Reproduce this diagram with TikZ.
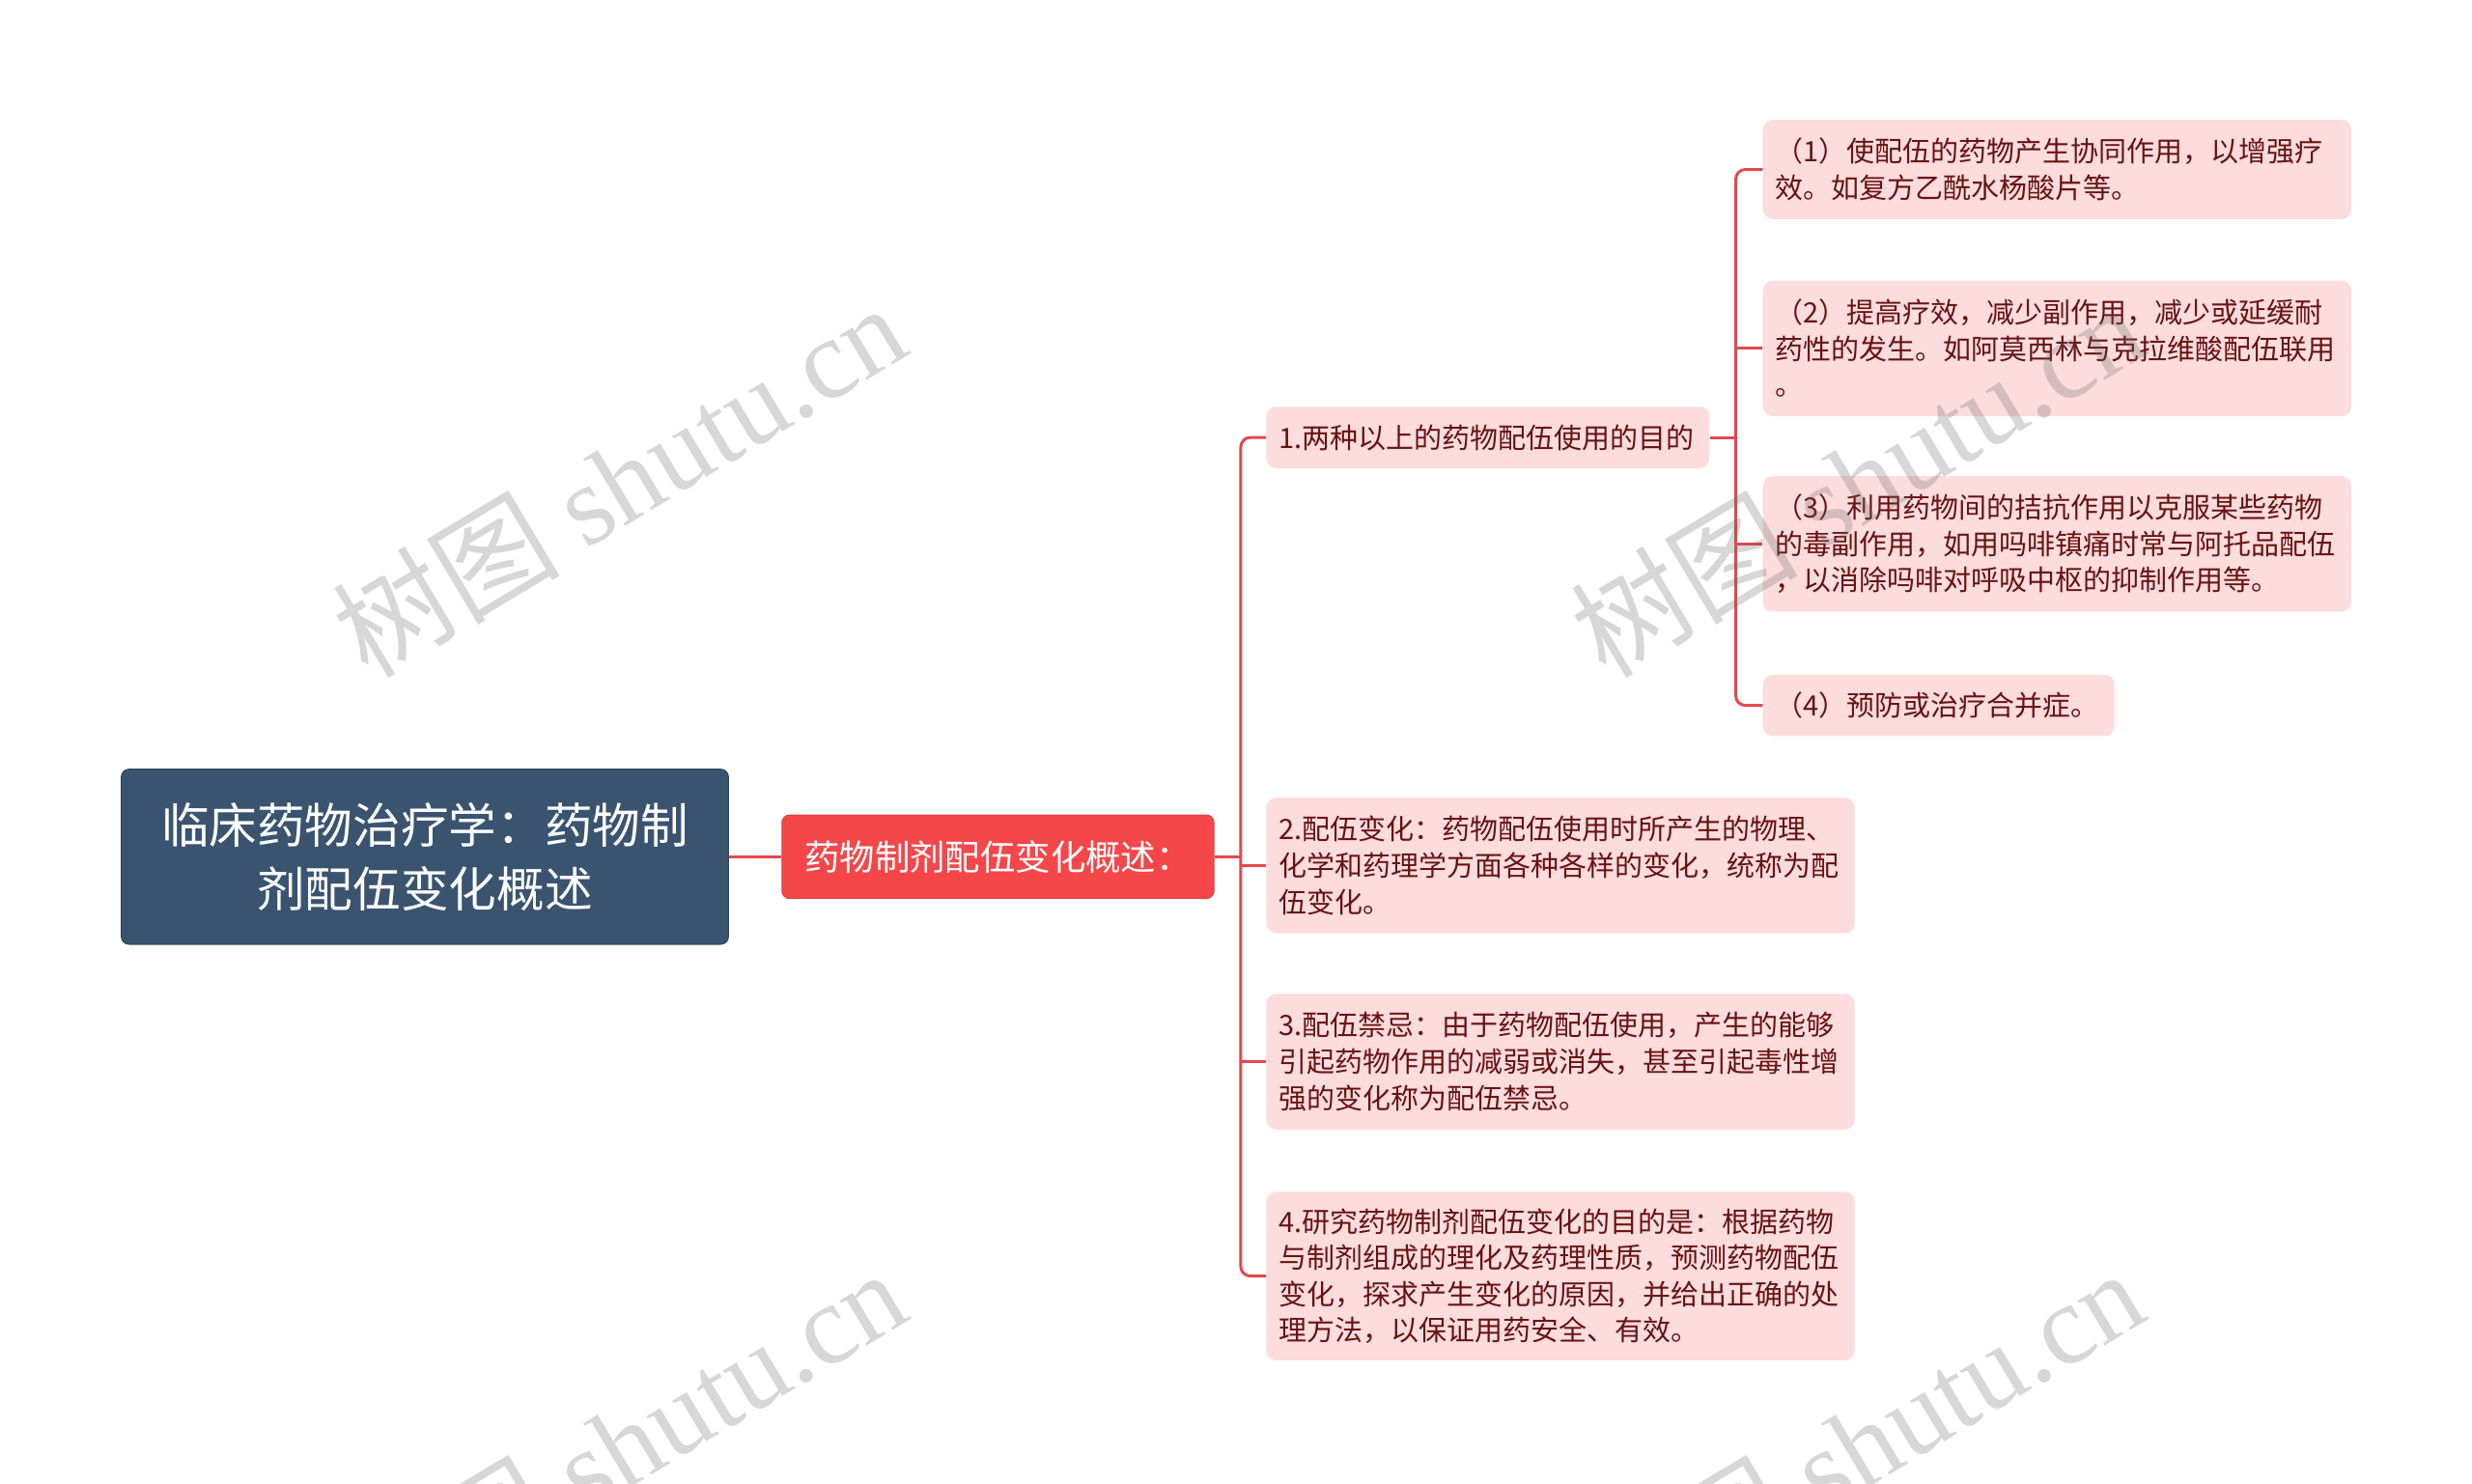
\documentclass[tikz,border=0pt]{standalone}
\usepackage{fontspec}
\setmainfont{Noto Sans CJK SC}
\newfontfamily\wmfont{Liberation Serif}
\definecolor{rootblue}{RGB}{58,84,112}
\definecolor{mainred}{RGB}{245,71,74}
\definecolor{linkred}{RGB}{226,72,77}
\definecolor{leafpink}{RGB}{252,220,221}
\definecolor{leaftext}{RGB}{104,18,18}

\begin{document}
\begin{tikzpicture}[x=0.8163pt,y=-0.8163pt,
    root node/.style={rectangle,rounded corners=4pt,fill=rootblue,draw=rootblue!85!black,line width=0.6pt,
      text=white,align=center,minimum width=314.3pt,minimum height=90.6pt,font=\fontsize{24.8}{32.7}\selectfont},
    main node/.style={rectangle,rounded corners=4pt,fill=mainred,draw=mainred!90!black,line width=0.5pt,
      text=white,minimum width=223.7pt,minimum height=43.3pt,font=\fontsize{18.2}{22}\selectfont},
    leaf node/.style={rectangle,rounded corners=5pt,fill=leafpink,text=leaftext,anchor=west,align=left,
      text width=#1,inner xsep=6.3pt,inner ysep=0pt,font=\fontsize{14.5}{18.8}\selectfont},
    leaf node/.default=292pt,
    link/.style={draw=linkred,line width=1.5pt,rounded corners=5pt},
    watermark/.style={text=black!60,opacity=0.26,rotate=31,anchor=base west,font=\fontsize{59}{59}\selectfont}]

  \useasboundingbox (0,0) rectangle (1568,941);

  \node[root node] (root) at (269.5,543.5) {临床药物治疗学：药物制\\剂配伍变化概述};
  \node[main node] (main) at (633,543.5) {药物制剂配伍变化概述：};

  \node[leaf node=216.8pt,minimum height=31.8pt] (c1) at (803,277.5) {1.两种以上的药物配伍使用的目的};
  \node[leaf node,minimum height=70.2pt] (c2) at (803,549) {2.配伍变化：药物配伍使用时所产生的物理、\\化学和药理学方面各种各样的变化，统称为配\\伍变化。};
  \node[leaf node,minimum height=70.2pt] (c3) at (803,673.5) {3.配伍禁忌：由于药物配伍使用，产生的能够\\引起药物作用的减弱或消失，甚至引起毒性增\\强的变化称为配伍禁忌。};
  \node[leaf node,minimum height=87.3pt] (c4) at (803,809.5) {4.研究药物制剂配伍变化的目的是：根据药物\\与制剂组成的理化及药理性质，预测药物配伍\\变化，探求产生变化的原因，并给出正确的处\\理方法，以保证用药安全、有效。};

  \node[leaf node,minimum height=51.4pt] (s1) at (1118,107.5) {（1）使配伍的药物产生协同作用，以增强疗\\效。如复方乙酰水杨酸片等。};
  \node[leaf node,minimum height=70.2pt] (s2) at (1118,221) {（2）提高疗效，减少副作用，减少或延缓耐\\药性的发生。如阿莫西林与克拉维酸配伍联用\\。};
  \node[leaf node,minimum height=70.2pt] (s3) at (1118,345) {（3）利用药物间的拮抗作用以克服某些药物\\的毒副作用，如用吗啡镇痛时常与阿托品配伍\\，以消除吗啡对呼吸中枢的抑制作用等。};
  \node[leaf node=169.4pt,minimum height=31.8pt] (s4) at (1118,447.5) {（4）预防或治疗合并症。};

  \coordinate (fork) at (787,543.5);
  \coordinate (subfork) at (1101,277.5);

  \draw[link] (root.east) -- (main.west);
  \draw[link] (main.east) -- (fork);
  \draw[link] (fork) |- (c1.west);
  \draw[link] (fork) |- (c4.west);
  \draw[link] (fork |- c2.west) -- (c2.west);
  \draw[link] (fork |- c3.west) -- (c3.west);

  \draw[link] (c1.east) -- (subfork);
  \draw[link] (subfork) |- (s1.west);
  \draw[link] (subfork) |- (s4.west);
  \draw[link] (subfork |- s2.west) -- (s2.west);
  \draw[link] (subfork |- s3.west) -- (s3.west);

  \node[watermark] (wm1) at (230,434) {树图 {\wmfont shutu.cn}};
  \node[watermark] (wm2) at (1015,434) {树图 {\wmfont shutu.cn}};
  \node[watermark] (wm3) at (230,1046) {树图 {\wmfont shutu.cn}};
  \node[watermark] (wm4) at (1015,1046) {树图 {\wmfont shutu.cn}};
\end{tikzpicture}
\end{document}
